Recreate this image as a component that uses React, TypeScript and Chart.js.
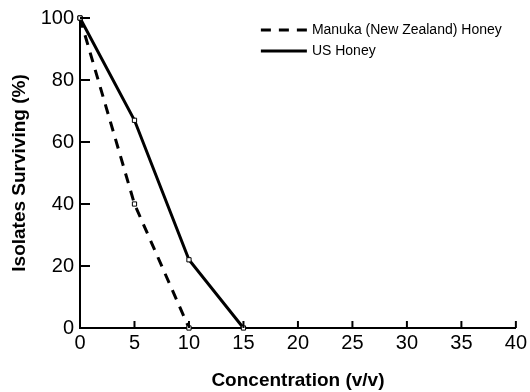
import React, { useEffect, useRef } from "react";
import { Chart, registerables } from "chart.js";

Chart.register(...registerables);

const manukaX = [0, 5, 10];
const manukaY = [100, 40, 0];
const usX = [0, 5, 10, 15];
const usY = [100, 67, 22, 0];
const seriesNames = ["Manuka (New Zealand) Honey", "US Honey"];
const xTitle = "Concentration (v/v)";
const yTitle = "Isolates Surviving (%)";

const FONT = "'Liberation Sans', Arial, Helvetica, sans-serif";

const inwardTicks = {
  id: "inwardTicks",
  afterDraw(chart: any) {
    const ctx = chart.ctx;
    const xs = chart.scales.x;
    const ys = chart.scales.y;
    const area = chart.chartArea;
    ctx.save();
    ctx.strokeStyle = "#000";
    ctx.lineWidth = 2;
    xs.ticks.forEach((t: any) => {
      const px = xs.getPixelForValue(t.value);
      ctx.beginPath();
      ctx.moveTo(px, area.bottom);
      ctx.lineTo(px, area.bottom - 7);
      ctx.stroke();
    });
    ys.ticks.forEach((t: any) => {
      const py = ys.getPixelForValue(t.value);
      ctx.beginPath();
      ctx.moveTo(area.left, py);
      ctx.lineTo(area.left + 10, py);
      ctx.stroke();
    });
    ctx.restore();
  },
};

const customLegend = {
  id: "customLegend",
  afterDraw(chart: any) {
    const ctx = chart.ctx;
    const area = chart.chartArea;
    const x0 = area.right - 255;
    const x1 = x0 + 46;
    const rows = [area.top + 12, area.top + 33];
    ctx.save();
    chart.data.datasets.forEach((ds: any, i: number) => {
      const y = rows[i];
      ctx.strokeStyle = "#000";
      ctx.lineWidth = 3;
      ctx.setLineDash(ds.borderDash || []);
      ctx.beginPath();
      ctx.moveTo(x0, y);
      ctx.lineTo(x1, y);
      ctx.stroke();
      ctx.setLineDash([]);
      ctx.fillStyle = "#000";
      ctx.font = `14px ${FONT}`;
      ctx.textBaseline = "middle";
      ctx.textAlign = "left";
      ctx.fillText(ds.label, x1 + 5, y);
    });
    ctx.restore();
  },
};

export default function App() {
  const ref = useRef<HTMLCanvasElement>(null);
  useEffect(() => {
    if (!ref.current) return;
    const chart = new Chart(ref.current, {
      type: "line",
      data: {
        datasets: [
          {
            label: seriesNames[0],
            data: manukaX.map((x, i) => ({ x, y: manukaY[i] })),
            borderColor: "#000",
            borderWidth: 3,
            borderDash: [10, 8],
            pointStyle: "rect",
            pointRadius: 3,
            pointBackgroundColor: "#fff",
            pointBorderColor: "#000",
            pointBorderWidth: 1,
            tension: 0,
            clip: false as any,
          },
          {
            label: seriesNames[1],
            data: usX.map((x, i) => ({ x, y: usY[i] })),
            borderColor: "#000",
            borderWidth: 3,
            pointStyle: "rect",
            pointRadius: 3,
            pointBackgroundColor: "#fff",
            pointBorderColor: "#000",
            pointBorderWidth: 1,
            tension: 0,
            clip: false as any,
          },
        ],
      },
      options: {
        responsive: false,
        animation: false,
        layout: { padding: { left: 0, top: 18, right: 13, bottom: 0 } },
        plugins: {
          legend: { display: false },
          tooltip: { enabled: false },
        },
        scales: {
          x: {
            type: "linear",
            min: 0,
            max: 40,
            ticks: {
              stepSize: 5,
              color: "#000",
              font: { family: FONT, size: 20 },
              padding: 3,
              maxRotation: 0,
            },
            grid: { display: false, drawTicks: false },
            border: { display: true, color: "#000", width: 2 },
            title: {
              display: true,
              text: xTitle,
              color: "#000",
              font: { family: FONT, size: 19, weight: "bold" },
              padding: { top: 0, bottom: 0 },
            },
            afterFit: (s: any) => {
              s.height = 64;
            },
          },
          y: {
            type: "linear",
            min: 0,
            max: 100,
            ticks: {
              stepSize: 20,
              color: "#000",
              font: { family: FONT, size: 20 },
              padding: 6,
            },
            grid: { display: false, drawTicks: false },
            border: { display: true, color: "#000", width: 2 },
            title: {
              display: true,
              text: yTitle,
              color: "#000",
              font: { family: FONT, size: 19, weight: "bold" },
              padding: { top: 8, bottom: 0 },
            },
            afterFit: (s: any) => {
              s.width = 80;
            },
          },
        },
      },
      plugins: [inwardTicks, customLegend],
    });
    return () => chart.destroy();
  }, []);
  return (
    <div style={{ position: "fixed", left: 0, top: 0, width: 530, height: 392, background: "#fff" }}>
      <canvas ref={ref} width={530} height={392} />
    </div>
  );
}
